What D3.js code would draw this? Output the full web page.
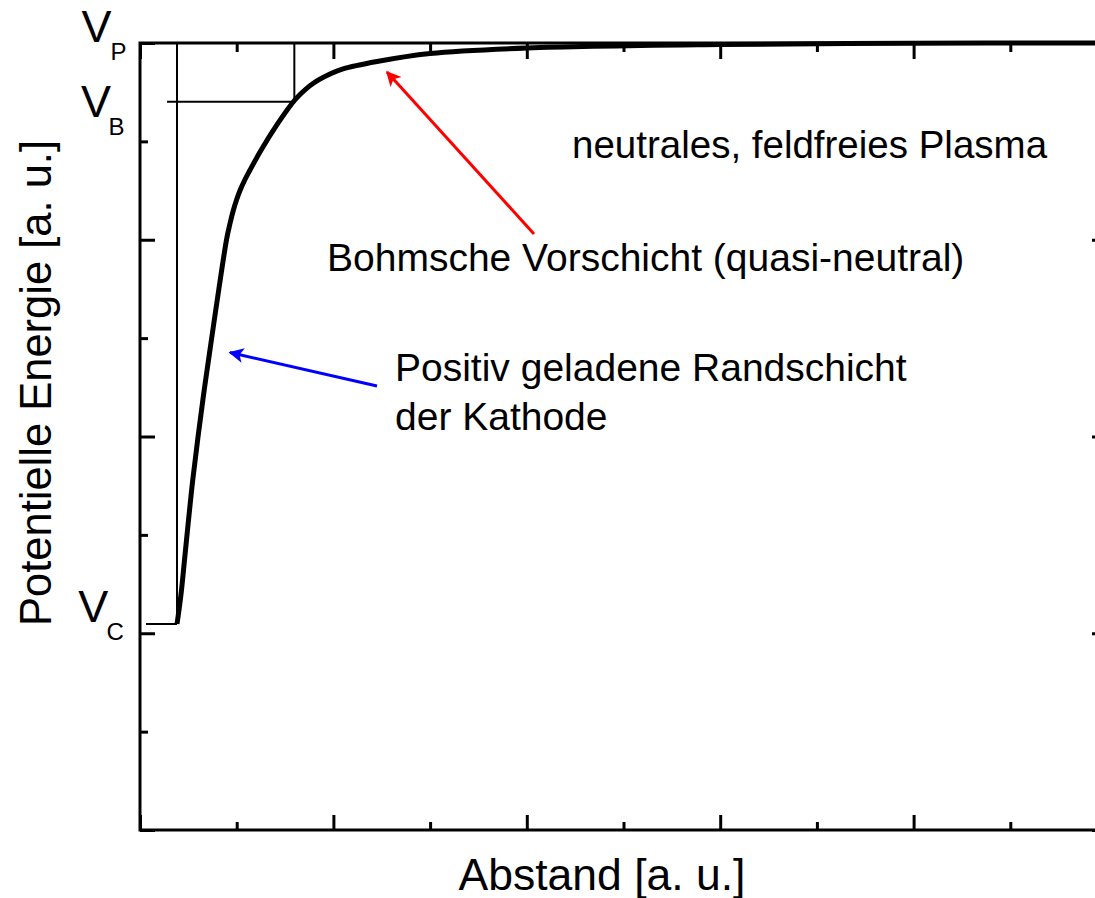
<!DOCTYPE html>
<html>
<head>
<meta charset="utf-8">
<script src="https://cdn.jsdelivr.net/npm/d3@7"></script>
<style>
  html, body { margin: 0; padding: 0; background: #fff; }
  svg { display: block; }
  text { font-family: "Liberation Sans", Arial, sans-serif; fill: #000; }
</style>
</head>
<body>
<svg id="chart" width="1095" height="898"></svg>
<script>
// ---- data (axis units, a. u.) ----
const curveX = [0.1913, 0.2017, 0.2146, 0.2301, 0.2482, 0.2715, 0.2999, 0.3335, 0.3707, 0.4085, 0.4483, 0.4654, 0.4809, 0.4990, 0.5171, 0.5429, 0.5688, 0.6257, 0.7084, 0.7911, 0.8273, 0.8945, 0.9824, 1.0496, 1.2254, 1.4995, 2.0010, 2.9990, 3.9814, 4.9638];
const curveY = [1.0470, 1.1182, 1.2198, 1.3723, 1.5502, 1.7687, 1.9975, 2.2465, 2.5006, 2.7548, 3.0051, 3.0826, 3.1436, 3.2020, 3.2503, 3.3062, 3.3545, 3.4551, 3.5852, 3.6991, 3.7383, 3.7942, 3.8420, 3.8684, 3.9060, 3.9466, 3.9746, 3.9924, 3.9985, 4.0000];
const xMajorTicks = [0, 1, 2, 3, 4, 5];
const xMinorTicks = [0.5, 1.5, 2.5, 3.5, 4.5];
const yMajorTicks = [0, 1, 2, 3, 4];
const yMinorTicks = [0.5, 1.5, 2.5, 3.5];
const levelNames = ["P", "B", "C"];
const levelX = [null, 0.798, 0.1913];
const levelY = [4.0, 3.702, 1.047];
const xTitle = "Abstand [a. u.]";
const yTitle = "Potentielle Energie [a. u.]";
const noteTexts = ["neutrales, feldfreies Plasma", "Bohmsche Vorschicht (quasi-neutral)", "Positiv geladene Randschicht", "der Kathode"];

// ---- layout ----
const svg = d3.select("#chart");
const mLeft = 140, mRight = 1107, mTop = 43, mBottom = 830;
const x = d3.scaleLinear().domain([0, 5]).range([mLeft, mRight]);
const y = d3.scaleLinear().domain([0, 4]).range([mBottom, mTop]);

svg.append("rect").attr("width", 1095).attr("height", 898).attr("fill", "#fff");

// arrow markers
const defs = svg.append("defs");
[["red", "#ff0000"], ["blue", "#0000ff"]].forEach(([id, c]) => {
  defs.append("marker").attr("id", "arrow-" + id)
    .attr("viewBox", "0 0 10 10").attr("refX", 9).attr("refY", 5)
    .attr("markerUnits", "userSpaceOnUse")
    .attr("markerWidth", 24).attr("markerHeight", 15)
    .attr("orient", "auto")
    .append("path").attr("d", "M0,0 L10,5 L0,10 L2.5,5 Z").attr("fill", c);
});

// axes (ticks inward)
function styleAxis(g) {
  g.select(".domain").remove();
  g.selectAll(".tick line").attr("stroke", "#000").attr("stroke-width", 3);
  g.selectAll(".tick text").remove();
}
svg.append("g").attr("transform", `translate(0,${mBottom})`)
  .call(d3.axisBottom(x).tickValues(xMajorTicks).tickSize(-15).tickFormat("")).call(styleAxis);
svg.append("g").attr("transform", `translate(0,${mBottom})`)
  .call(d3.axisBottom(x).tickValues(xMinorTicks).tickSize(-8).tickFormat("")).call(styleAxis);
svg.append("g").attr("transform", `translate(0,${mTop})`)
  .call(d3.axisTop(x).tickValues(xMajorTicks).tickSize(-16).tickFormat("")).call(styleAxis);
svg.append("g").attr("transform", `translate(0,${mTop})`)
  .call(d3.axisTop(x).tickValues(xMinorTicks).tickSize(-9).tickFormat("")).call(styleAxis);
svg.append("g").attr("transform", `translate(${mLeft},0)`)
  .call(d3.axisLeft(y).tickValues(yMajorTicks).tickSize(-15).tickFormat("")).call(styleAxis);
svg.append("g").attr("transform", `translate(${mLeft},0)`)
  .call(d3.axisLeft(y).tickValues(yMinorTicks).tickSize(-8).tickFormat("")).call(styleAxis);
svg.append("g").attr("transform", `translate(${mRight},0)`)
  .call(d3.axisRight(y).tickValues(yMajorTicks).tickSize(-15).tickFormat("")).call(styleAxis);
svg.append("g").attr("transform", `translate(${mRight},0)`)
  .call(d3.axisRight(y).tickValues(yMinorTicks).tickSize(-8).tickFormat("")).call(styleAxis);

// frame
svg.append("rect").attr("x", mLeft).attr("y", mTop)
  .attr("width", mRight - mLeft).attr("height", mBottom - mTop)
  .attr("fill", "none").attr("stroke", "#000").attr("stroke-width", 3);

// guide lines
const guide = svg.append("g").attr("stroke", "#000").attr("stroke-width", 2).attr("fill", "none");
// V_B
guide.append("line").attr("x1", x(0.14)).attr("x2", x(levelX[1])).attr("y1", y(levelY[1])).attr("y2", y(levelY[1]));
guide.append("line").attr("x1", x(levelX[1])).attr("x2", x(levelX[1])).attr("y1", y(4)).attr("y2", y(levelY[1]));
// V_C
guide.append("line").attr("x1", x(0.031)).attr("x2", x(levelX[2])).attr("y1", y(levelY[2])).attr("y2", y(levelY[2]));
guide.append("line").attr("x1", x(levelX[2])).attr("x2", x(levelX[2])).attr("y1", y(4)).attr("y2", y(levelY[2]));

// curve
const pts = curveX.map((d, i) => [d, curveY[i]]);
svg.append("path").datum(pts)
  .attr("d", d3.line().x(d => x(d[0])).y(d => y(d[1])).curve(d3.curveCatmullRom.alpha(0.5)))
  .attr("fill", "none").attr("stroke", "#000").attr("stroke-width", 5)
  .attr("stroke-linejoin", "round");

// level labels
const vOffsets = [[-1.3, 17], [15, 33.3], [-2.3, 16]];
const vX = [[81.5, 110.5], [81, 108.5], [78.3, 106.5]];
levelNames.forEach((n, i) => {
  svg.append("text").attr("x", vX[i][0]).attr("y", y(levelY[i]) + vOffsets[i][0])
    .attr("font-size", 45).text("V");
  svg.append("text").attr("x", vX[i][1]).attr("y", y(levelY[i]) + vOffsets[i][1])
    .attr("font-size", 24).text(n);
});

// axis titles
svg.append("text").attr("x", 602).attr("y", 890).attr("text-anchor", "middle")
  .attr("font-size", 44.5).text(xTitle);
svg.append("text").attr("transform", "translate(51,383) rotate(-90)").attr("text-anchor", "middle")
  .attr("font-size", 43.5).text(yTitle);

// annotations
svg.append("text").attr("x", 572).attr("y", 158).attr("font-size", 38.5).text(noteTexts[0]);
svg.append("text").attr("x", 327).attr("y", 271).attr("font-size", 39).text(noteTexts[1]);
svg.append("text").attr("x", 395).attr("y", 381).attr("font-size", 39).text(noteTexts[2]);
svg.append("text").attr("x", 395).attr("y", 430).attr("font-size", 39).text(noteTexts[3]);

// arrows
svg.append("line").attr("x1", 534).attr("y1", 234).attr("x2", 387).attr("y2", 72)
  .attr("stroke", "#ff0000").attr("stroke-width", 3).attr("marker-end", "url(#arrow-red)");
svg.append("line").attr("x1", 377).attr("y1", 386).attr("x2", 230).attr("y2", 352.5)
  .attr("stroke", "#0000ff").attr("stroke-width", 3).attr("marker-end", "url(#arrow-blue)");
</script>
</body>
</html>
